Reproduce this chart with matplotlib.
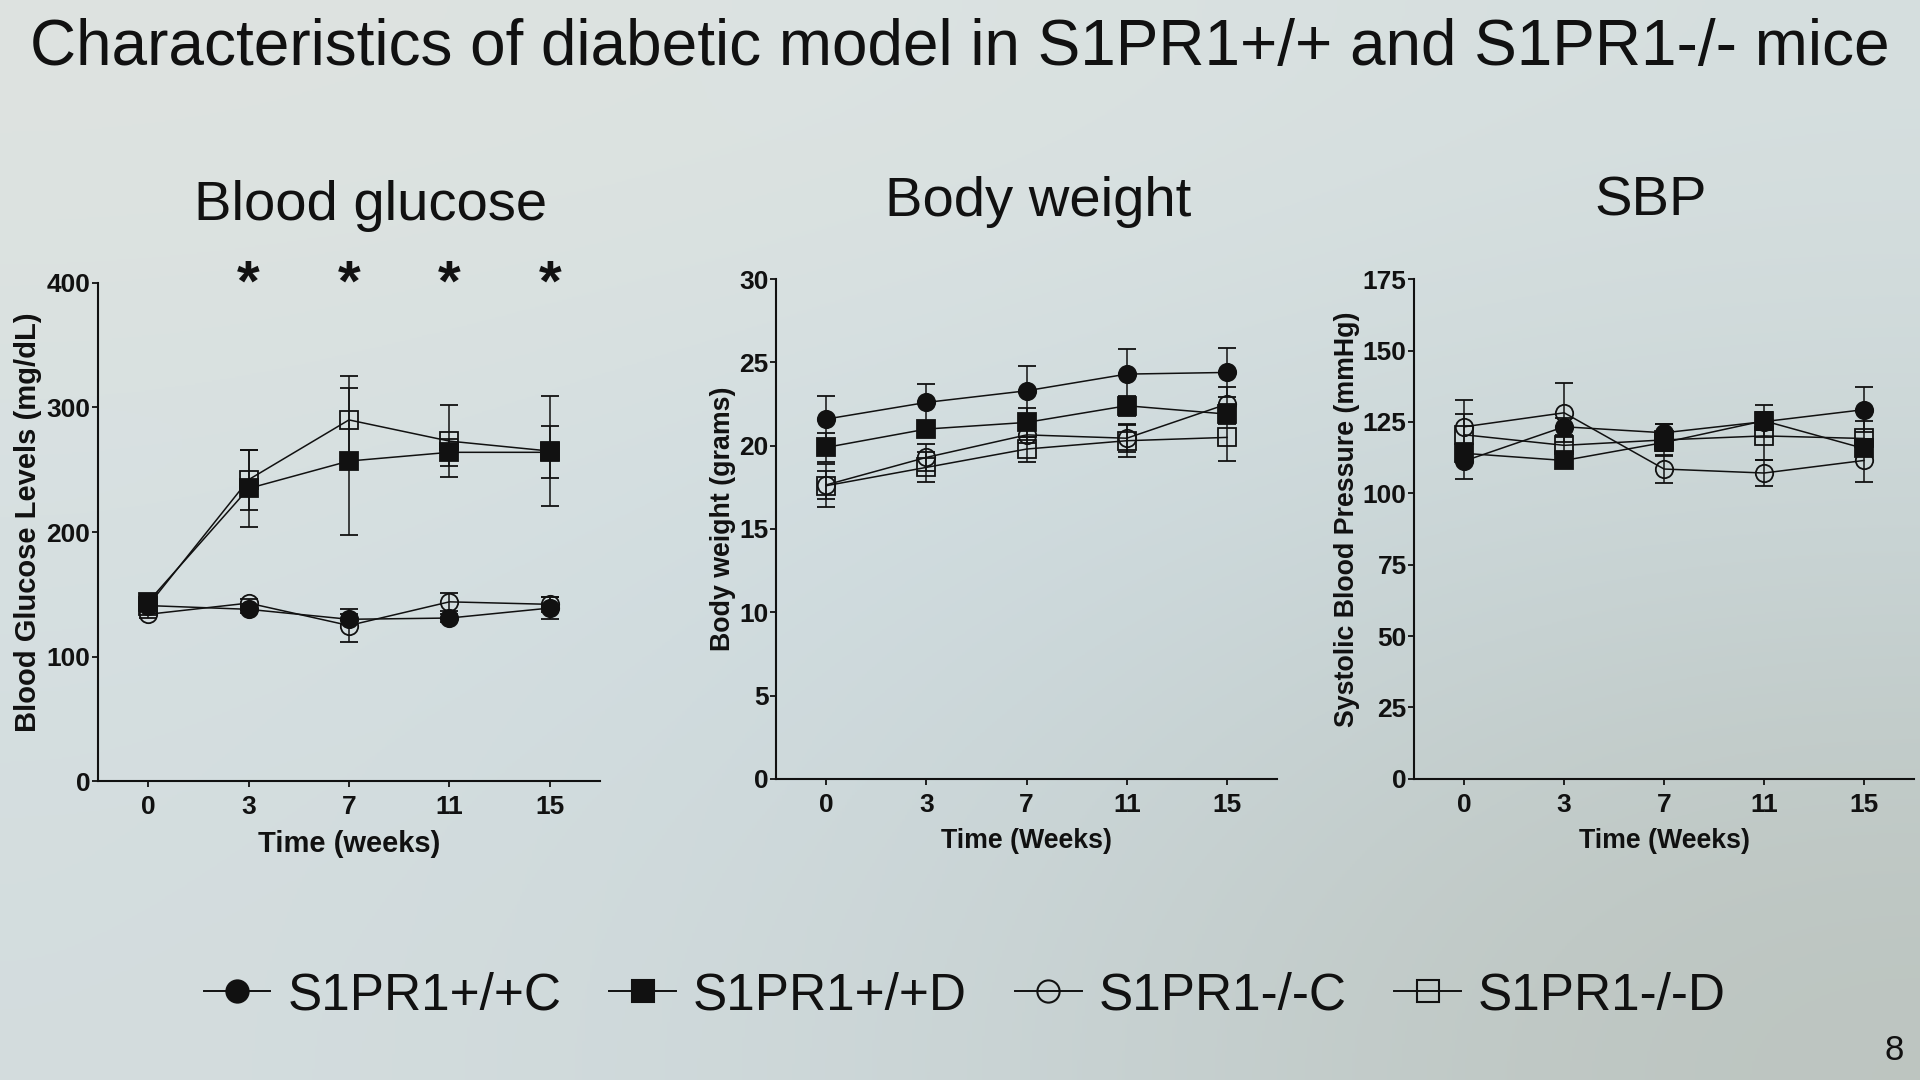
import numpy as np
import matplotlib
matplotlib.use('Agg')
import matplotlib.pyplot as plt
from matplotlib.lines import Line2D

plt.rcParams['font.family'] = ['Liberation Sans', 'DejaVu Sans']

weeks = [0, 3, 7, 11, 15]
groups = ['S1PR1+/+C', 'S1PR1+/+D', 'S1PR1-/-C', 'S1PR1-/-D']

# blood glucose (mg/dL), mean and SEM
glu_wt_c = [141, 138, 130, 131, 139]
glu_wt_c_sem = [3, 3, 4, 3, 9]
glu_wt_d = [144, 235, 257, 264, 264]
glu_wt_d_sem = [4, 31, 59, 11, 21]
glu_ko_c = [134, 143, 125, 144, 142]
glu_ko_c_sem = [3, 3, 13, 7, 6]
glu_ko_d = [141, 242, 290, 273, 265]
glu_ko_d_sem = [4, 24, 35, 29, 44]
star_weeks = [3, 7, 11, 15]

# body weight (grams)
bw_wt_c = [21.6, 22.6, 23.3, 24.3, 24.4]
bw_wt_c_sem = [1.4, 1.1, 1.5, 1.5, 1.45]
bw_wt_d = [19.9, 21.0, 21.4, 22.4, 21.9]
bw_wt_d_sem = [0.85, 0.5, 0.85, 0.6, 0.6]
bw_ko_c = [17.65, 19.3, 20.65, 20.45, 22.5]
bw_ko_c_sem = [0.85, 0.8, 0.5, 0.8, 1.0]
bw_ko_d = [17.6, 18.7, 19.8, 20.3, 20.5]
bw_ko_d_sem = [1.3, 0.9, 0.75, 1.0, 1.4]

# systolic blood pressure (mmHg)
sbp_wt_c = [111.3, 123.3, 121.2, 125.1, 129.3]
sbp_wt_c_sem = [6.3, 3, 3, 3, 8]
sbp_wt_d = [114, 111.5, 117.8, 125.4, 115.7]
sbp_wt_d_sem = [3, 2, 3, 5.6, 2]
sbp_ko_c = [123.3, 128.2, 108.5, 107.1, 111.5]
sbp_ko_c_sem = [9.4, 10.4, 5, 4.6, 7.6]
sbp_ko_d = [120.5, 116.8, 118.7, 120.1, 119.2]
sbp_ko_d_sem = [7.4, 3, 5.5, 8.3, 6]

ink = '#111111'
styles = [('o', ink), ('s', ink), ('o', 'none'), ('s', 'none')]
xpos = np.arange(len(weeks))  # time points are drawn evenly spaced

fig = plt.figure(figsize=(19.2, 10.8), dpi=100)

# slide background gradient
bg = fig.add_axes([0, 0, 1, 1], zorder=-10)
grid = np.array([[[222, 227, 224], [220, 227, 226], [214, 223, 223]],
                 [[214, 224, 226], [205, 219, 224], [200, 212, 213]],
                 [[212, 221, 222], [203, 214, 216], [188, 196, 191]]]) / 255.0
bg.imshow(grid, aspect='auto', interpolation='bicubic', extent=[0, 1, 0, 1])
bg.axis('off')

fig.text(0.5, 0.956, 'Characteristics of diabetic model in S1PR1+/+ and S1PR1-/- mice',
         ha='center', va='center', fontsize=46, color=ink)

panels = [
    ([0.0510, 0.2766, 0.2615, 0.4615], 'Blood glucose', 0.544, 3, 21,
     [glu_wt_c, glu_wt_d, glu_ko_c, glu_ko_d],
     [glu_wt_c_sem, glu_wt_d_sem, glu_ko_c_sem, glu_ko_d_sem],
     400, 100, 'Blood Glucose Levels (mg/dL)', 'Time (weeks)'),
    ([0.4043, 0.2789, 0.2608, 0.4626], 'Body weight', 0.523, 2, 19.3,
     [bw_wt_c, bw_wt_d, bw_ko_c, bw_ko_d],
     [bw_wt_c_sem, bw_wt_d_sem, bw_ko_c_sem, bw_ko_d_sem],
     30, 5, 'Body weight (grams)', 'Time (Weeks)'),
    ([0.7366, 0.2789, 0.2602, 0.4626], 'SBP', 0.473, 2, 19.3,
     [sbp_wt_c, sbp_wt_d, sbp_ko_c, sbp_ko_d],
     [sbp_wt_c_sem, sbp_wt_d_sem, sbp_ko_c_sem, sbp_ko_d_sem],
     175, 25, 'Systolic Blood Pressure (mmHg)', 'Time (Weeks)'),
]

axes = []
for rect, title, tx, lpad, lsize, means, sems, ymax, ystep, ylab, xlab in panels:
    ax = fig.add_axes(rect)
    ax.patch.set_alpha(0)
    for (mk, fc), m, s in zip(styles, means, sems):
        ax.errorbar(xpos, m, yerr=s, fmt='-', color=ink, lw=1.1,
                    elinewidth=1.1, capsize=6.5, capthick=1.1,
                    marker=mk, ms=12.5, mfc=fc, mec=ink, mew=1.3)
    ax.set_xlim(-0.5, 4.5)
    ax.set_ylim(0, ymax)
    ax.set_xticks(xpos)
    ax.set_xticklabels([str(w) for w in weeks])
    ax.set_yticks(np.arange(0, ymax + 1, ystep))
    for sp in ['top', 'right']:
        ax.spines[sp].set_visible(False)
    for sp in ['left', 'bottom']:
        ax.spines[sp].set_linewidth(1.5)
        ax.spines[sp].set_color(ink)
    ax.tick_params(direction='out', length=4, width=1.3, colors=ink,
                   labelsize=19)
    ax.tick_params(axis='y', pad=1.5)
    ax.tick_params(axis='x', pad=6)
    for lbl in ax.get_xticklabels() + ax.get_yticklabels():
        lbl.set_fontweight('bold')
    ax.set_ylabel(ylab, fontsize=lsize, fontweight='bold', color=ink, labelpad=lpad)
    ax.yaxis.label.set_y(0.52)
    ax.set_xlabel(xlab, fontsize=lsize, fontweight='bold', color=ink, labelpad=8)
    ax.text(tx, 1.155, title, transform=ax.transAxes, ha='center',
            va='center', fontsize=40.5, color=ink)
    axes.append(ax)

for w in star_weeks:
    axes[0].text(weeks.index(w), 386, '*', ha='center', va='baseline',
                 fontsize=42, fontweight='bold', color=ink, clip_on=False)

handles = [Line2D([], [], color=ink, lw=1.4, marker=mk, ms=16, mfc=fc,
                  mec=ink, mew=1.5) for mk, fc in styles]
fig.legend(handles, groups, loc='center', bbox_to_anchor=(0.5025, 0.078),
           ncol=4, frameon=False, fontsize=37, handlelength=1.3,
           handletextpad=0.33, columnspacing=0.93, labelcolor=ink)

fig.text(0.9866, 0.027, '8', ha='center', va='center', fontsize=25, color=ink)

fig.savefig('out.png', dpi=100)
